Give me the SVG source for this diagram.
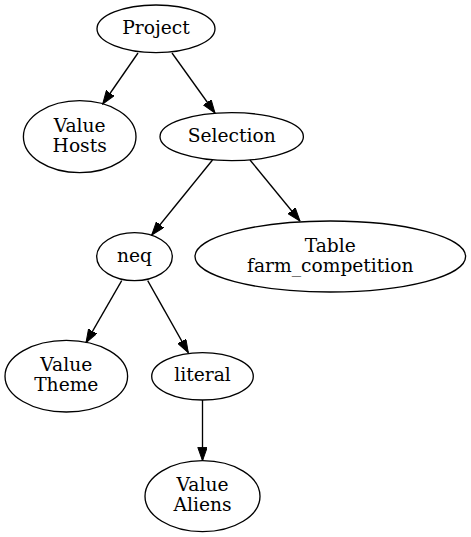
<svg xmlns="http://www.w3.org/2000/svg" width="471" height="537" viewBox="0 0 471 537">
<style>
.n ellipse{fill:none;stroke:#000;stroke-width:1.33}
.n text{font-family:"DejaVu Serif",serif;font-size:18.67px;text-anchor:middle;fill:#000}
.e line{stroke:#000;stroke-width:1.33;marker-end:url(#ah)}
</style>
<defs>
<marker id="ah" markerUnits="userSpaceOnUse" markerWidth="14" markerHeight="10" refX="13.3" refY="4.7" orient="auto">
<path d="M0,0 L13.3,4.7 L0,9.4 z" fill="#000" stroke="#000" stroke-width="1"/>
</marker>
</defs>
<rect width="471" height="537" fill="#fff"/>
<g class="e" id="edges">
<line x1="138" y1="53" x2="102.7" y2="104"/>
<line x1="172" y1="53" x2="215" y2="113"/>
<line x1="212.5" y1="160" x2="151.7" y2="235"/>
<line x1="250" y1="160" x2="300" y2="221"/>
<line x1="121.7" y1="280.7" x2="86" y2="342.7"/>
<line x1="147.7" y1="280.7" x2="188.3" y2="352.7"/>
<line x1="202.5" y1="400" x2="202.5" y2="460.7"/>
</g>
<g class="n" id="project"><ellipse cx="156" cy="28.8" rx="59" ry="23.8"/><text x="156" y="34.3">Project</text></g>
<g class="n" id="hosts"><ellipse cx="79.7" cy="136.7" rx="56.3" ry="36"/><text x="79.7" y="131.7">Value</text><text x="79.7" y="151.7">Hosts</text></g>
<g class="n" id="selection"><ellipse cx="231.7" cy="136.7" rx="71.7" ry="24"/><text x="231.7" y="142.2">Selection</text></g>
<g class="n" id="neq"><ellipse cx="134.5" cy="256.7" rx="37.8" ry="24"/><text x="134.5" y="262.2">neq</text></g>
<g class="n" id="table"><ellipse cx="330.3" cy="256.5" rx="135.3" ry="35.5"/><text x="330.3" y="252.3">Table</text><text x="330.3" y="272.3">farm_competition</text></g>
<g class="n" id="theme"><ellipse cx="66.3" cy="376.2" rx="61.3" ry="35.8"/><text x="66.3" y="370.7">Value</text><text x="66.3" y="390.7">Theme</text></g>
<g class="n" id="literal"><ellipse cx="202.5" cy="376.3" rx="50.8" ry="23.7"/><text x="202.5" y="381.3">literal</text></g>
<g class="n" id="aliens"><ellipse cx="202.5" cy="496.2" rx="57.5" ry="35.5"/><text x="202.5" y="490.7">Value</text><text x="202.5" y="510.5">Aliens</text></g>
</svg>
